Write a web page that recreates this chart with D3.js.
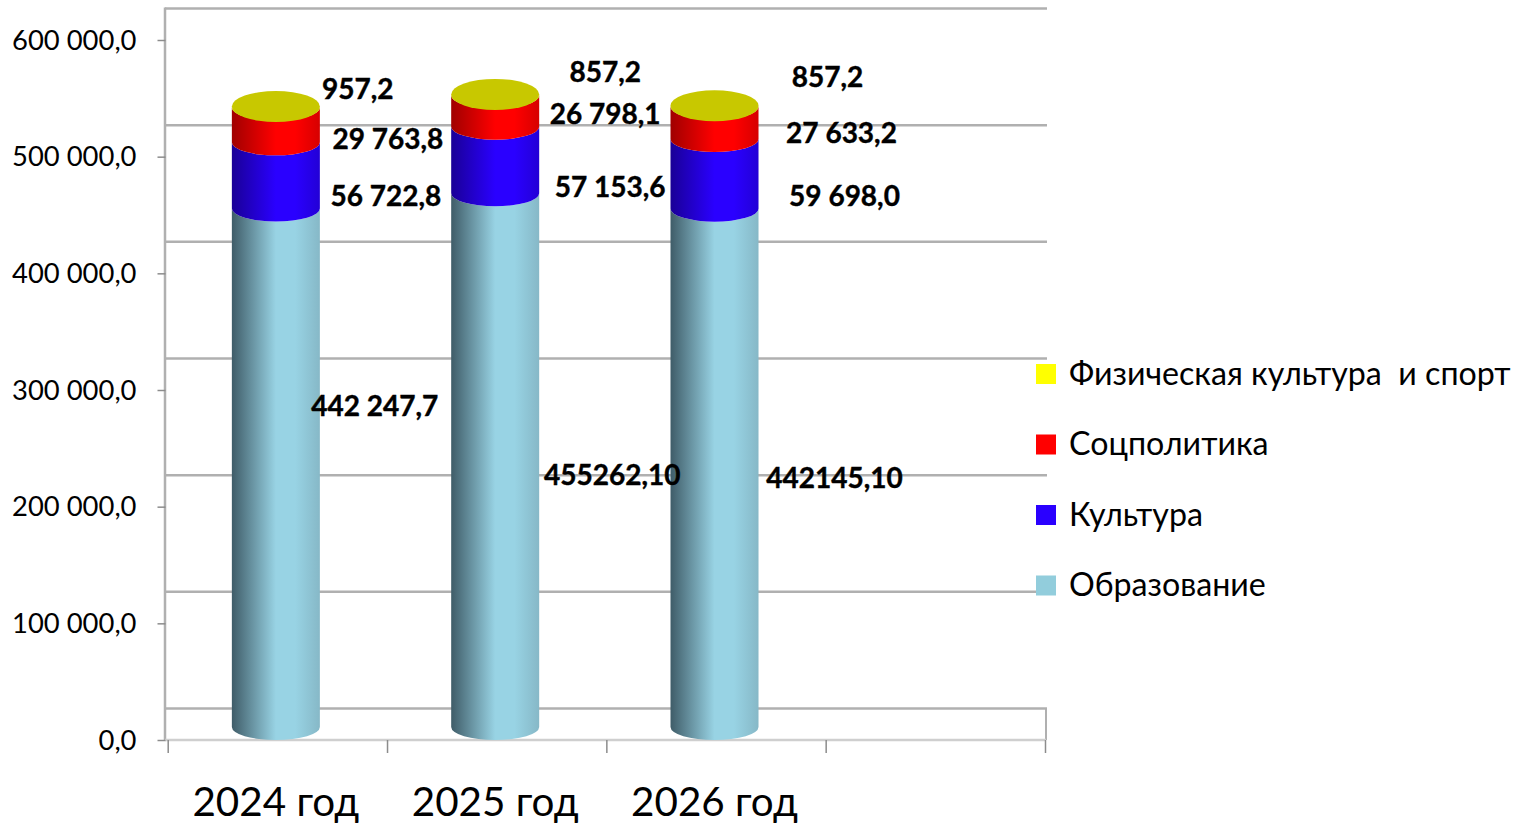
<!DOCTYPE html>
<html>
<head>
<meta charset="utf-8">
<script src="https://cdn.jsdelivr.net/npm/d3@7"></script>
<style>
  body { margin: 0; background: #fff; }
  svg { display: block; }
  text { font-family: Lato, "Noto Sans", sans-serif; fill: #000; }
</style>
</head>
<body>
<svg id="chart" width="1529" height="824"></svg>
<script>
var categories = ["2024 год", "2025 год", "2026 год"];
var seriesNames = ["Образование", "Культура", "Соцполитика", "Физическая культура  и спорт"];
var education = [442247.7, 455262.1, 442145.1];
var culture = [56722.8, 57153.6, 59698.0];
var socialPolicy = [29763.8, 26798.1, 27633.2];
var sport = [957.2, 857.2, 857.2];
var yTicks = [0, 100000, 200000, 300000, 400000, 500000, 600000];

// labels as printed on the original, not all of them share a format
var educationLabels = ["442 247,7", "455262,10", "442145,10"];
var cultureLabels = ["56 722,8", "57 153,6", "59 698,0"];
var socialLabels = ["29 763,8", "26 798,1", "27 633,2"];
var sportLabels = ["957,2", "857,2", "857,2"];

var seriesValues = [education, culture, socialPolicy, sport];
var seriesLabels = [educationLabels, cultureLabels, socialLabels, sportLabels];

// hand placed label shifts from the middle of each segment, one row per series
var labelDx = [[99, 117, 120], [110, 115, 130], [112, 110, 127], [82, 110, 113]];
var labelDy = [[-61, 15.5, 11.5], [20, 27, 22], [14, 3, 10], [-18, -23, -29]];

var colors = ["#98d3e4", "#2a00ff", "#ff0000", "#ffff00"];
var darkColors = ["#3f5c68", "#1a0096", "#a00000", "#c8c800"];
var sideColors = ["#86b8c7", "#2300d6", "#d60000", "#c8c800"];
var topColor = "#c8c800";

var svg = d3.select("#chart"),
    rx = 44,
    ry = 15.5,
    arcRy = 13, // the seams and the base are flatter than the top cap
    depth = 31.5,
    left = 165,
    right = 1046;

var y = d3.scaleLinear().domain([0, 600000]).range([740, 40]);
var x = d3.scaleBand().domain([0, 1, 2, 3]).range([167.7, 1045]);
var fmt = d3.formatLocale({ decimal: ",", thousands: " ", grouping: [3], currency: ["", ""] }).format(",.1f");

function centerX(i) {
    return x(i) + x.bandwidth() / 2 - 1.5;
}

// gradients, dark on the left like a lit cylinder
var defs = svg.append("defs");
colors.forEach(function (c, i) {
    var g = defs.append("linearGradient").attr("id", "grad" + i);
    g.append("stop").attr("offset", "0%").attr("stop-color", darkColors[i]);
    g.append("stop").attr("offset", "50%").attr("stop-color", c);
    g.append("stop").attr("offset", "72%").attr("stop-color", c);
    g.append("stop").attr("offset", "100%").attr("stop-color", sideColors[i]);
});

// back wall grid
svg.append("g").selectAll("line").data(yTicks).join("line")
    .attr("x1", left).attr("x2", right + 1)
    .attr("y1", function (d) { return y(d) - depth; })
    .attr("y2", function (d) { return y(d) - depth; })
    .attr("stroke", "#b0b0b0").attr("stroke-width", 2.5);

// walls and floor
svg.append("line").attr("x1", left).attr("x2", left)
    .attr("y1", y(600000) - depth - 1).attr("y2", y(0))
    .attr("stroke", "#b0b0b0").attr("stroke-width", 2.5);
svg.append("line").attr("x1", right).attr("x2", right)
    .attr("y1", y(0) - depth).attr("y2", y(0))
    .attr("stroke", "#b0b0b0").attr("stroke-width", 2);
svg.append("line").attr("x1", left).attr("x2", right)
    .attr("y1", y(0)).attr("y2", y(0))
    .attr("stroke", "#cfcfcf").attr("stroke-width", 2.5);

// axes
var yAxis = svg.append("g").attr("transform", "translate(165.5,0)")
    .call(d3.axisLeft(y).tickValues(yTicks).tickFormat(fmt).tickSize(8).tickPadding(21));
yAxis.select(".domain").remove();
yAxis.selectAll("line").attr("stroke", "#8c8c8c").attr("stroke-width", 1.5);
yAxis.selectAll("text").attr("font-size", 27.4)
    .attr("dy", "0.34em");

var xAxis = svg.append("g").attr("transform", "translate(0,740)")
    .call(d3.axisBottom(d3.scaleLinear().domain([0, 4]).range([167.7, 1045])).ticks(4).tickFormat("").tickSize(13));
xAxis.select(".domain").remove();
xAxis.selectAll("line").attr("stroke", "#8c8c8c").attr("stroke-width", 1.5);

svg.append("g").selectAll("text").data(categories).join("text")
    .attr("x", function (d, i) { return centerX(i); })
    .attr("y", 816)
    .attr("text-anchor", "middle")
    .attr("font-size", 40.4)
    .text(function (d) { return d; });

// cylinders
var stacked = categories.map(function (c, i) {
    var sum = 0;
    return seriesValues.map(function (vals, s) {
        var seg = { cat: i, series: s, y0: sum, y1: sum + vals[i] };
        sum = seg.y1;
        return seg;
    });
});

function segmentPath(d) {
    var cx = centerX(d.cat),
        yb = y(d.y0) - (d.y0 === 0 ? arcRy : ry),
        yt = y(d.y1) - ry;
    return "M" + (cx - rx) + "," + yt +
        "L" + (cx - rx) + "," + yb +
        "A" + rx + "," + arcRy + " 0 0 0 " + (cx + rx) + "," + yb +
        "L" + (cx + rx) + "," + yt +
        "A" + rx + "," + arcRy + " 0 0 1 " + (cx - rx) + "," + yt + "Z";
}

var cols = svg.append("g").selectAll("g").data(stacked).join("g");
cols.selectAll("path").data(function (d) { return d; }).join("path")
    .attr("d", segmentPath)
    .attr("fill", function (d) { return "url(#grad" + d.series + ")"; });
cols.append("ellipse")
    .attr("cx", function (d) { return centerX(d[3].cat); })
    .attr("cy", function (d) { return y(d[3].y1) - ry; })
    .attr("rx", rx).attr("ry", ry)
    .attr("fill", topColor);

// value labels
var flat = d3.merge(stacked);
svg.append("g").selectAll("text").data(flat).join("text")
    .attr("x", function (d) { return centerX(d.cat) + labelDx[d.series][d.cat]; })
    .attr("y", function (d) { return y((d.y0 + d.y1) / 2) - ry + labelDy[d.series][d.cat]; })
    .attr("dy", "0.36em")
    .attr("text-anchor", "middle")
    .attr("font-size", 28)
    .attr("font-weight", 700)
    .attr("stroke", "#000").attr("stroke-width", 0.4)
    .text(function (d) { return seriesLabels[d.series][d.cat]; });

// legend, top row is the last series
var legendOrder = [3, 2, 1, 0];
var legendY = d3.scalePoint().domain(legendOrder).range([374, 585.5]);
var legend = svg.append("g").selectAll("g").data(legendOrder).join("g")
    .attr("transform", function (d) { return "translate(1036," + legendY(d) + ")"; });
legend.append("rect").attr("y", -10).attr("width", 20).attr("height", 20)
    .attr("fill", function (d) { return d === 0 ? "#92cddc" : colors[d]; });
legend.append("text").attr("x", 33).attr("dy", "0.33em")
    .attr("font-size", 32.2)
    .style("white-space", "pre")
    .text(function (d) { return seriesNames[d]; });
</script>
</body>
</html>
